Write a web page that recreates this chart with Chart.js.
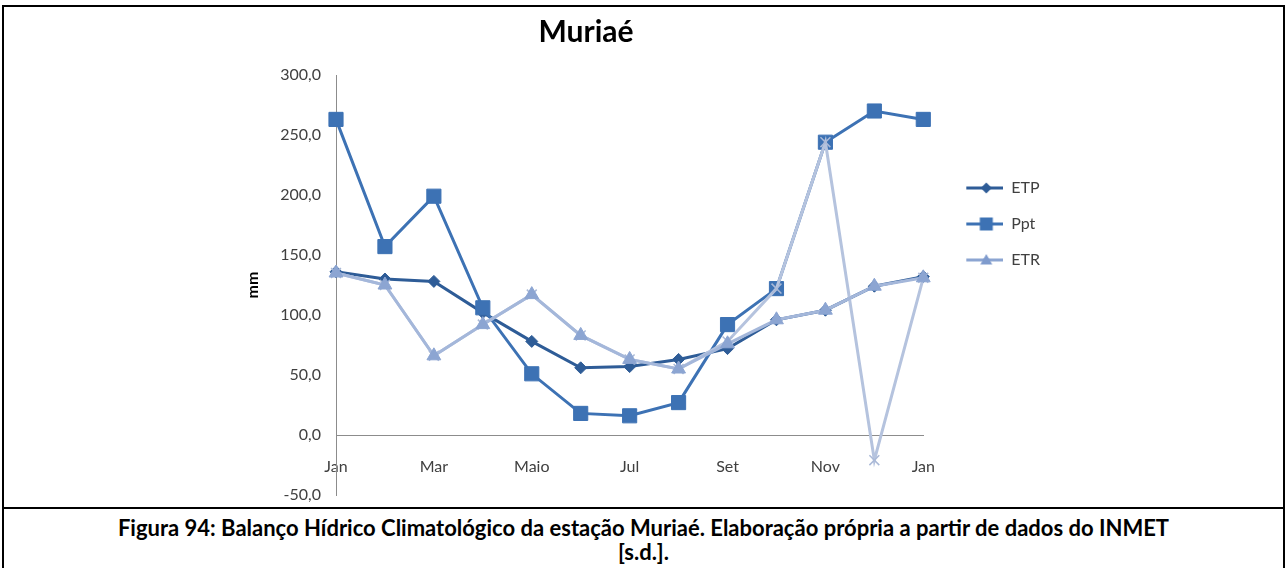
<!DOCTYPE html>
<html lang="pt-BR">
<head>
<meta charset="utf-8">
<title>Muriaé</title>
<script src="https://cdn.jsdelivr.net/npm/chart.js@4.4.1/dist/chart.umd.min.js"></script>
<style>
  html, body { margin: 0; padding: 0; background: #fff; }
  #pagina { position: relative; width: 1287px; height: 568px; overflow: hidden; background: #fff; }
  .borda { position: absolute; background: #000; z-index: 2; }
  #grafico { position: absolute; left: 12px; top: 8px; }
  #legenda-figura {
    position: absolute; left: 0; top: 516px; width: 1287px;
    text-align: center; white-space: nowrap;
    font: bold 22px Lato, "Open Sans", sans-serif; line-height: 24px; color: #000;
  }
</style>
</head>
<body>
<div id="pagina">
  <div class="borda" style="left:2px;top:5px;width:1283px;height:2px"></div>
  <div class="borda" style="left:2px;top:5px;width:2px;height:563px"></div>
  <div class="borda" style="left:1283px;top:5px;width:2px;height:563px"></div>
  <div class="borda" style="left:2px;top:507px;width:1283px;height:2px"></div>
  <canvas id="grafico" width="1148" height="498"></canvas>
  <div id="legenda-figura">Figura 94: Balanço Hídrico Climatológico da estação Muriaé. Elaboração própria a partir de dados do INMET<br>[s.d.].</div>
</div>
<script>
// Meses do balanço hídrico (janeiro repetido no fim do ciclo)
const meses = ['Jan', 'Fev', 'Mar', 'Abr', 'Maio', 'Jun', 'Jul', 'Ago', 'Set', 'Out', 'Nov', 'Dez', 'Jan'];
// Rótulos exibidos no eixo x (um mês sim, outro não)
const rotulosX = ['Jan', '', 'Mar', '', 'Maio', '', 'Jul', '', 'Set', '', 'Nov', '', 'Jan'];
// Marcas do eixo y (mm)
const ticksY = [-50, 0, 50, 100, 150, 200, 250, 300];

// Séries em mm
const etp = [136, 130, 128, 102, 78, 56, 57, 63, 72, 96, 104, 124, 132];
const ppt = [263, 157, 199, 106, 51, 18, 16, 27, 92, 122, 244, 270, 263];
const etr = [135, 125, 66, 92, 117, 83, 63, 55, 76, 96, 104, 124, 131];
const serie4 = [135, 125, 66, 92, 117, 83, 63, 55, 78, 122, 244, -21, 131];

const fonte = 'Lato, "Open Sans", sans-serif';
const corTexto = '#404040';
const corEixo = '#8c8c8c';

// Ícones da legenda: traço com o marcador no meio
function iconeLegenda(corLinha, corMarca, estilo) {
  const c = document.createElement('canvas');
  c.width = 60; c.height = 16;
  const g = c.getContext('2d');
  g.strokeStyle = corLinha; g.lineWidth = 3;
  g.beginPath(); g.moveTo(23, 8); g.lineTo(60, 8); g.stroke();
  const cx = 43, cy = 8;
  g.fillStyle = corMarca;
  g.beginPath();
  if (estilo === 'rectRot') {
    g.moveTo(cx - 5.5, cy); g.lineTo(cx, cy - 5.5); g.lineTo(cx + 5.5, cy); g.lineTo(cx, cy + 5.5);
  } else if (estilo === 'rect') {
    g.rect(cx - 6.5, cy - 6.5, 13, 13);
  } else {
    g.moveTo(cx, cy - 6); g.lineTo(cx + 6, cy + 4.5); g.lineTo(cx - 6, cy + 4.5);
  }
  g.closePath(); g.fill();
  return c;
}

const icones = [
  iconeLegenda('#2E5C97', '#2E5C97', 'rectRot'),
  iconeLegenda('#3D72B4', '#3D72B4', 'rect'),
  iconeLegenda('#8CA5D2', '#7F9BCD', 'triangle')
];

const ctx = document.getElementById('grafico').getContext('2d');
new Chart(ctx, {
  type: 'line',
  data: {
    labels: meses,
    datasets: [
      {
        label: 'ETP', data: etp, order: 4,
        borderColor: '#2E5C97', backgroundColor: '#2E5C97', borderWidth: 3,
        pointStyle: 'rectRot', pointRadius: 6, pointBorderWidth: 1,
        pointBackgroundColor: '#2E5C97', pointBorderColor: '#2E5C97'
      },
      {
        label: 'Ppt', data: ppt, order: 3,
        borderColor: '#3D72B4', backgroundColor: '#3D72B4', borderWidth: 3,
        pointStyle: 'rect', pointRadius: 10, pointBorderWidth: 1,
        pointBackgroundColor: '#3D72B4', pointBorderColor: '#3D72B4'
      },
      {
        label: 'ETR', data: etr, order: 1,
        borderColor: '#A4B7DA', backgroundColor: '#8CA5D2', borderWidth: 3,
        pointStyle: 'triangle', pointRadius: 8, pointBorderWidth: 1,
        pointBackgroundColor: '#8CA5D2', pointBorderColor: '#8CA5D2'
      },
      {
        label: '', data: serie4, order: 2,
        borderColor: '#B5C3DE', backgroundColor: '#B5C3DE', borderWidth: 3,
        pointStyle: 'crossRot', pointRadius: 7, pointBorderWidth: 1.5,
        pointBackgroundColor: '#AAB9D7', pointBorderColor: '#AAB9D7'
      }
    ]
  },
  options: {
    responsive: false,
    animation: false,
    devicePixelRatio: 1,
    layout: { padding: { left: 110, right: 110, top: 0, bottom: 11 } },
    elements: { line: { tension: 0 } },
    plugins: {
      tooltip: { enabled: false },
      title: {
        display: true, text: 'Muriaé', color: '#000',
        font: { family: fonte, size: 30, weight: 'bold' },
        padding: { top: 6, bottom: 25 }
      },
      legend: {
        display: true, position: 'right', align: 'start', fullSize: false,
        title: { display: true, text: '', font: { size: 10 }, padding: { top: 73, bottom: 0 } },
        labels: {
          usePointStyle: true, pointStyleWidth: 60, padding: 20,
          color: corTexto, font: { family: fonte, size: 16 },
          generateLabels(chart) {
            const base = Chart.defaults.plugins.legend.labels.generateLabels(chart);
            return base
              .filter(item => item.datasetIndex < 3)
              .sort((a, b) => a.datasetIndex - b.datasetIndex)
              .map(item => Object.assign(item, { pointStyle: icones[item.datasetIndex] }));
          }
        }
      }
    },
    scales: {
      x: {
        type: 'category',
        position: { y: 0 },
        offset: false,
        grid: { display: false, drawTicks: false },
        border: { display: true, color: corEixo, width: 1 },
        ticks: {
          autoSkip: false, maxRotation: 0, minRotation: 0, padding: 22,
          color: corTexto, font: { family: fonte, size: 16 },
          callback: (valor, indice) => rotulosX[indice]
        },
        afterFit(escala) { escala.paddingLeft = 0; escala.paddingRight = 0; }
      },
      y: {
        min: -50, max: 300,
        afterBuildTicks(escala) { escala.ticks = ticksY.map(v => ({ value: v })); },
        grid: { display: false, drawTicks: false },
        border: { display: true, color: corEixo, width: 1 },
        ticks: {
          padding: 15, color: corTexto, font: { family: fonte, size: 16 },
          callback: v => Number(v).toFixed(1).replace('.', ',')
        },
        title: {
          display: true, text: 'mm', color: '#000',
          font: { family: fonte, size: 16, weight: 'bold' },
          padding: { top: 121, bottom: 0 }
        },
        afterFit(escala) { escala.width = 214; escala.paddingTop = 0; escala.paddingBottom = 0; }
      }
    }
  }
});
</script>
</body>
</html>
